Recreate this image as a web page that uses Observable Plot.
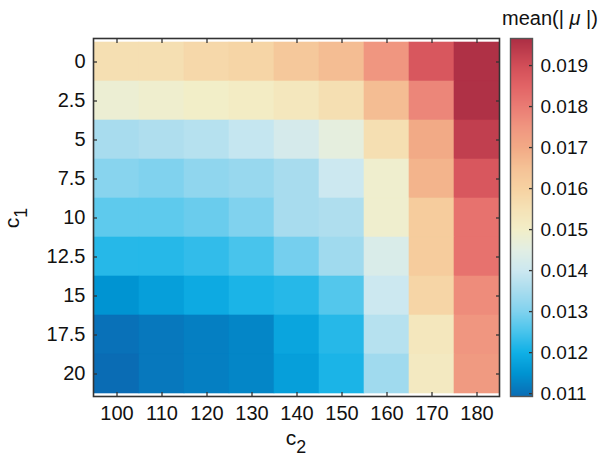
<!DOCTYPE html>
<html>
<head>
<meta charset="utf-8">
<script src="https://cdn.jsdelivr.net/npm/d3@7"></script>
<script src="https://cdn.jsdelivr.net/npm/@observablehq/plot@0.6"></script>
<style>
  html, body { margin: 0; padding: 0; background: #fff; }
  #chart { position: relative; width: 606px; height: 458px; }
  #chart svg { position: absolute; top: 0; }
</style>
</head>
<body>
<div id="chart"></div>
<script>
// c2 (columns) and c1 (rows)
const c2 = [100, 110, 120, 130, 140, 150, 160, 170, 180];
const c1 = [0, 2.5, 5, 7.5, 10, 12.5, 15, 17.5, 20];

// mean(|mu|) per row of c1, across c2
const row_0    = [0.0156, 0.0156, 0.0158, 0.0159, 0.0163, 0.0166, 0.0175, 0.0188, 0.0196];
const row_2_5  = [0.0148, 0.0149, 0.0150, 0.0151, 0.0153, 0.0156, 0.0166, 0.0178, 0.0196];
const row_5    = [0.0135, 0.0136, 0.0137, 0.0139, 0.0142, 0.0146, 0.0156, 0.0170, 0.0193];
const row_7_5  = [0.0131, 0.0130, 0.0132, 0.0133, 0.0135, 0.0140, 0.0149, 0.0168, 0.0188];
const row_10   = [0.0127, 0.0127, 0.0128, 0.0130, 0.0135, 0.0136, 0.0149, 0.0162, 0.0182];
const row_12_5 = [0.0122, 0.0122, 0.0123, 0.0125, 0.0129, 0.0134, 0.0143, 0.0162, 0.0182];
const row_15   = [0.0115, 0.0117, 0.0119, 0.0121, 0.0122, 0.0126, 0.0140, 0.0159, 0.0177];
const row_17_5 = [0.0110, 0.0111, 0.0112, 0.0113, 0.0118, 0.0122, 0.0137, 0.0153, 0.0175];
const row_20   = [0.0109, 0.0111, 0.0112, 0.0113, 0.0117, 0.0121, 0.0134, 0.0152, 0.0174];
const rows = [row_0, row_2_5, row_5, row_7_5, row_10, row_12_5, row_15, row_17_5, row_20];

// colour bar
const colorbarTicks = [0.011, 0.012, 0.013, 0.014, 0.015, 0.016, 0.017, 0.018, 0.019];
const colorbarDomain = [0.01093, 0.01966];
const colorStops = [0.01093, 0.0115, 0.0120, 0.0125, 0.0130, 0.0135, 0.0140, 0.0145, 0.0150, 0.0155, 0.0160, 0.0165, 0.0170, 0.0175, 0.0180, 0.0185, 0.0190, 0.01966];
const colorRange = ["#0a6cb4", "#0094d2", "#10b0e6", "#48c4ec", "#80d2ee", "#a8dcee", "#cce8f0", "#e2eee4", "#f2eec8", "#f5e2b6", "#f6d2a2", "#f5c296", "#f2aa86", "#f09680", "#ea7c74", "#e26466", "#d24e58", "#ac2e44"];

const cells = c1.flatMap((r, i) => c2.map((c, j) => ({c1: r, c2: c, v: rows[i][j]})));

const FONT = "'Liberation Sans', Arial, Helvetica, sans-serif";
const FS = 20;
const colorOpts = {type: "linear", domain: colorStops, range: colorRange, interpolate: "rgb", clamp: true};

const main = Plot.plot({
  width: 506, height: 458,
  marginLeft: 93, marginRight: 7, marginTop: 38, marginBottom: 62,
  style: {fontFamily: FONT, fontSize: FS + "px", color: "#111", background: "transparent"},
  x: {type: "band", domain: c2, padding: 0, label: null},
  y: {type: "band", domain: c1, padding: 0, label: null, tickFormat: d => String(d)},
  color: colorOpts,
  marks: [
    Plot.cell(cells, {x: "c2", y: "c1", fill: "v", stroke: "v", strokeWidth: 0.6}),
    Plot.axisX({anchor: "bottom", tickSize: -4, tickPadding: 13, stroke: "#333", strokeWidth: 1.3, label: null}),
    Plot.axisX({anchor: "top", tickSize: -4, text: null, stroke: "#333", strokeWidth: 1.3, label: null}),
    Plot.axisY({anchor: "left", tickSize: -4, tickPadding: 12, stroke: "#333", strokeWidth: 1.3, label: null}),
    Plot.axisY({anchor: "right", tickSize: -4, text: null, stroke: "#333", strokeWidth: 1.3, label: null}),
    Plot.frame({stroke: "#333", strokeWidth: 1.6})
  ]
});
main.style.left = "0px";

const bar = Plot.plot({
  width: 111, height: 458,
  marginLeft: 15, marginRight: 74, marginTop: 38, marginBottom: 62,
  style: {fontFamily: FONT, fontSize: "19px", color: "#111", background: "transparent", overflow: "visible"},
  x: {domain: [0, 1], axis: null},
  y: {domain: colorbarDomain, axis: null},
  color: colorOpts,
  marks: [
    Plot.raster({x1: 0, x2: 1, y1: colorbarDomain[0], y2: colorbarDomain[1], fill: (x, y) => y, pixelSize: 1}),
    Plot.axisY(colorbarTicks, {anchor: "right", tickSize: -4, tickPadding: 12, stroke: "#333", strokeWidth: 1.3, tickFormat: d3.format(".3f"), label: null}),
    Plot.frame({stroke: "#555", strokeWidth: 1.4})
  ]
});
bar.style.left = "495px";

const chart = document.getElementById("chart");
chart.appendChild(main);
chart.appendChild(bar);

// axis titles with subscripts
const ms = d3.select(main);
ms.append("text")
  .attr("transform", "translate(296,445)")
  .attr("text-anchor", "middle")
  .attr("fill", "#111")
  .style("font-family", FONT).style("font-size", "21px")
  .call(t => {
    t.append("tspan").text("c");
    t.append("tspan").attr("dy", "0.45em").attr("font-size", "0.85em").text("2");
  });
ms.append("text")
  .attr("transform", "translate(19,218) rotate(-90)")
  .attr("text-anchor", "middle")
  .attr("fill", "#111")
  .style("font-family", FONT).style("font-size", "21px")
  .call(t => {
    t.append("tspan").text("c");
    t.append("tspan").attr("dy", "0.45em").attr("font-size", "0.85em").text("1");
  });

// colour bar title
d3.select(bar).append("text")
  .attr("x", 7).attr("y", 25)
  .attr("text-anchor", "start")
  .attr("fill", "#111")
  .style("font-family", FONT).style("font-size", "20px")
  .call(t => {
    t.append("tspan").text("mean(|");
    t.append("tspan").attr("font-style", "italic").text(" μ ");
    t.append("tspan").text("|)");
  });
</script>
</body>
</html>
